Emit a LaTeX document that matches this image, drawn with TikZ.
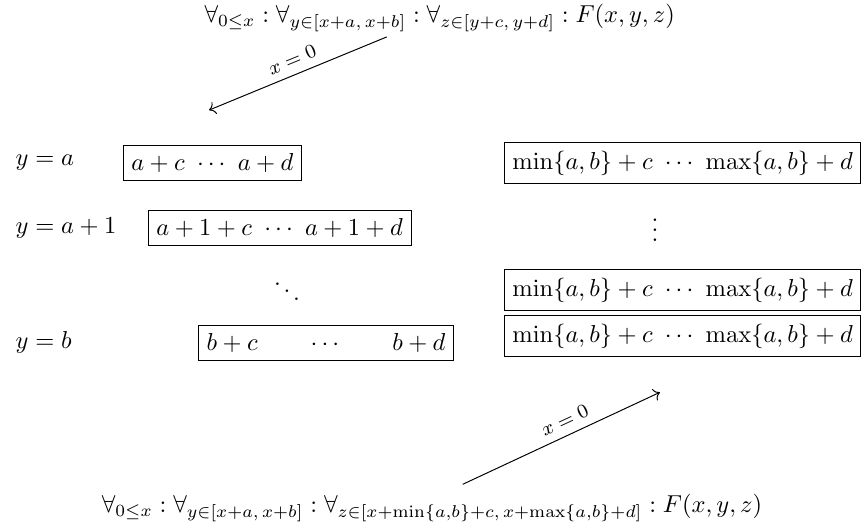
\documentclass[tikz,border=0pt]{standalone}
\usepackage{amsmath,amssymb}
\usepackage{tikz}
\usetikzlibrary{arrows.meta,positioning,calc}

\begin{document}
\begin{tikzpicture}
  \useasboundingbox (0,0) rectangle (12.37,-7.53);
  \tikzset{rng/.style={draw, anchor=west}}
  % quantified formulas
  \node (top) at (6.31,-0.26) {$\forall_{0\le x} : \forall_{y\in[x+a,\,x+b]} : \forall_{z\in[y+c,\,y+d]} : F(x,y,z)$};
  \node (bot) at (6.20,-7.29) {$\forall_{0\le x} : \forall_{y\in[x+a,\,x+b]} : \forall_{z\in[x+\min\{a,b\}+c,\,x+\max\{a,b\}+d]} : F(x,y,z)$};
  % left column
  \node[anchor=west] (ya) at (0.10,-2.34) {$y=a$};
  \node[anchor=west] (ya1) at (0.10,-3.27) {$y=a+1$};
  \node[anchor=west] (yb) at (0.10,-4.92) {$y=b$};
  \node[rng] (ra) at (1.76,-2.34) {$a+c\ \cdots\ a+d$};
  \node[rng] (ra1) at (2.12,-3.27) {$a+1+c\ \cdots\ a+1+d$};
  \node (dd) at (4.12,-4.08) {$\ddots$};
  \node[rng] (rb) at (2.84,-4.92) {$b+c\qquad\cdots\qquad b+d$};
  % right column
  \node[rng] (m1) at (7.23,-2.34) {$\min\{a,b\}+c\ \cdots\ \max\{a,b\}+d$};
  \node (vd) at (9.40,-3.20) {$\vdots$};
  \node[rng] (m2) at (7.23,-4.16) {$\min\{a,b\}+c\ \cdots\ \max\{a,b\}+d$};
  \node[rng] (m3) at (7.23,-4.82) {$\min\{a,b\}+c\ \cdots\ \max\{a,b\}+d$};
  % substitution arrows
  \coordinate (t1) at (5.55,-0.53);
  \coordinate (t2) at (3.00,-1.58);
  \coordinate (b1) at (6.64,-6.95);
  \coordinate (b2) at (9.47,-5.63);
  \draw[-{To}] (t1) -- node[sloped, above, font=\footnotesize] {$x=0$} (t2);
  \draw[-{To}] (b1) -- node[pos=0.55, sloped, above, font=\footnotesize] {$x=0$} (b2);
\end{tikzpicture}
\end{document}
